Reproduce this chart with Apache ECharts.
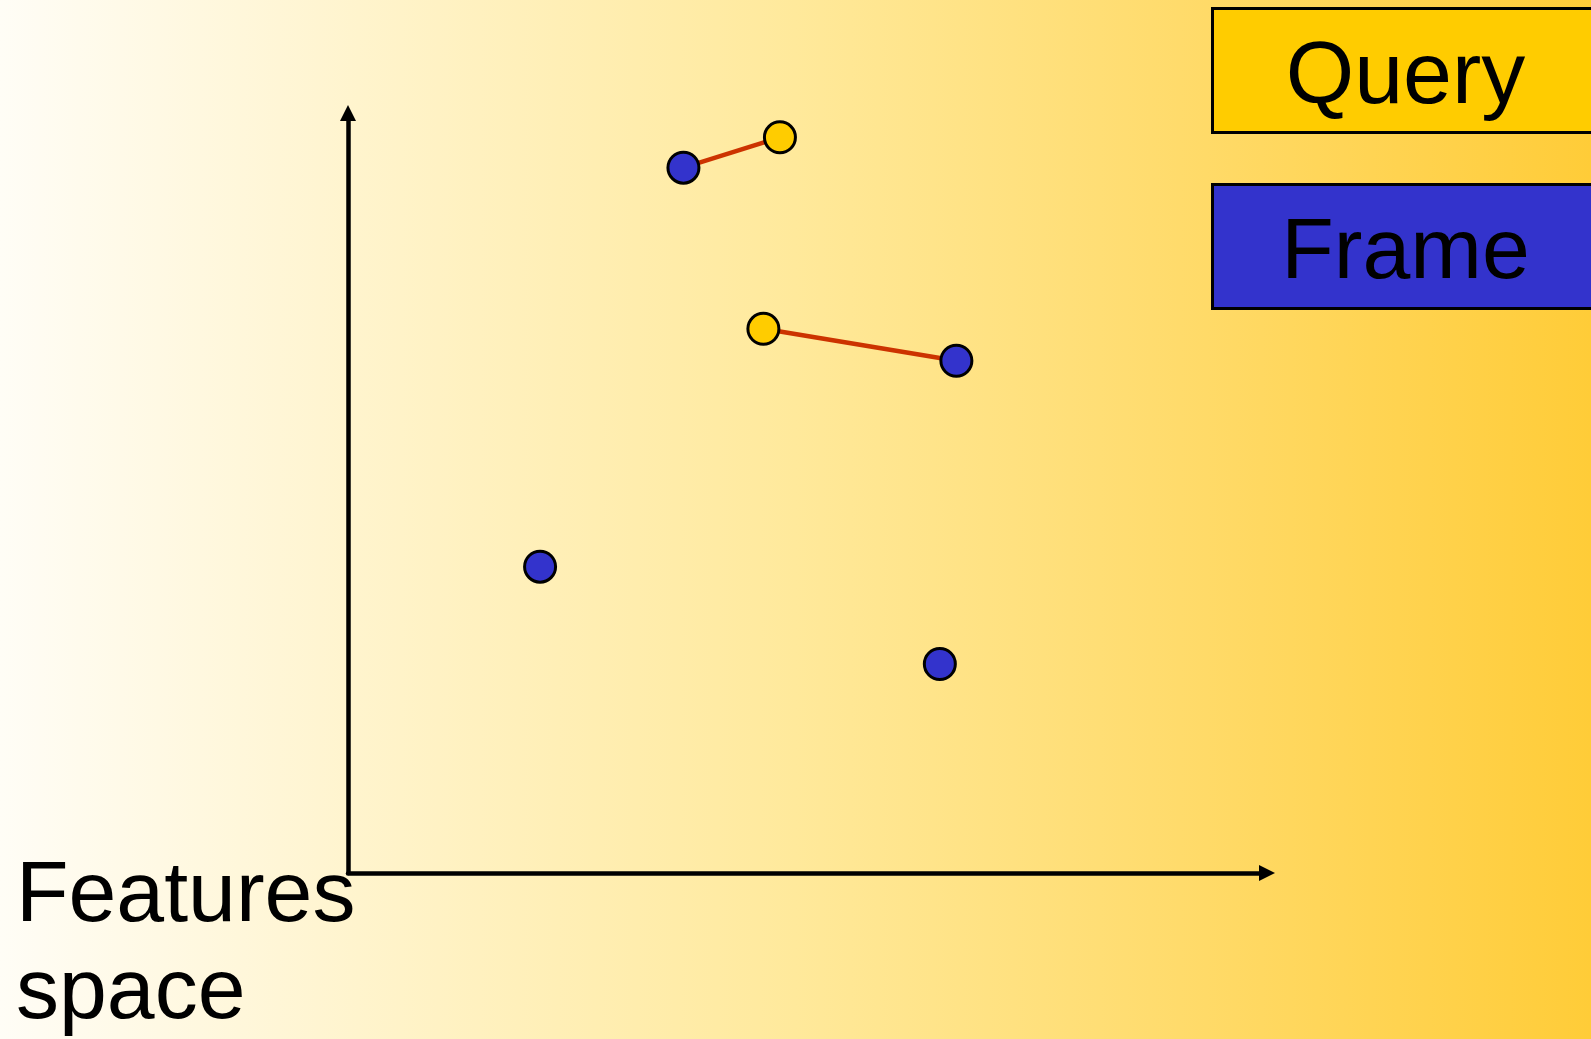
<!DOCTYPE html>
<html>
<head>
<meta charset="utf-8">
<script src="https://cdn.jsdelivr.net/npm/echarts@6/dist/echarts.min.js"></script>
<style>
html,body{margin:0;padding:0;width:100%;height:100%;overflow:hidden;}
#chart{width:1591px;height:1039px;}
</style>
</head>
<body>
<div id="chart"></div>
<script>
// Data (feature-space coordinates, 0..100 on both axes)
var queryPoints = [[47.0, 96.8], [45.2, 71.6]];
var framePoints = [[36.5, 92.8], [66.2, 67.4], [20.9, 40.3], [64.4, 27.5]];
// matches: query index -> frame index
var matches = [[0, 0], [1, 1]];
var legendLabels = ['Query', 'Frame'];
var axisLabel = ['Features', 'space'];

var chart = echarts.init(document.getElementById('chart'), null, {renderer: 'canvas'});

var lineSeries = matches.map(function (m) {
  return {
    type: 'line',
    data: [queryPoints[m[0]], framePoints[m[1]]],
    symbol: 'none',
    lineStyle: {color: '#CC3300', width: 4.5},
    silent: true,
    z: 2
  };
});

var option = {
  animation: false,
  backgroundColor: {
    type: 'linear', x: 0, y: 0, x2: 1, y2: 0,
    colorStops: [
      {offset: 0, color: '#FFFDF6'},
      {offset: 0.5, color: '#FFE99B'},
      {offset: 1, color: '#FFCC38'}
    ]
  },
  grid: {left: 348, right: 324, top: 113, bottom: 166},
  xAxis: {
    type: 'value', min: 0, max: 100,
    axisLine: {show: true, onZero: false, lineStyle: {color: '#000', width: 4.5},
      symbol: ['none', 'triangle'], symbolSize: [16, 16]},
    axisTick: {show: false}, axisLabel: {show: false}, splitLine: {show: false}
  },
  yAxis: {
    type: 'value', min: 0, max: 100,
    axisLine: {show: true, onZero: false, lineStyle: {color: '#000', width: 4.5},
      symbol: ['none', 'triangle'], symbolSize: [16, 16]},
    axisTick: {show: false}, axisLabel: {show: false}, splitLine: {show: false}
  },
  series: lineSeries.concat([
    {
      type: 'scatter', name: legendLabels[0], data: queryPoints,
      symbol: 'circle', symbolSize: 31,
      itemStyle: {color: '#FFCC00', borderColor: '#000', borderWidth: 3, opacity: 1},
      z: 3
    },
    {
      type: 'scatter', name: legendLabels[1], data: framePoints,
      symbol: 'circle', symbolSize: 31,
      itemStyle: {color: '#3333CC', borderColor: '#000', borderWidth: 3, opacity: 1},
      z: 3
    }
  ]),
  graphic: [
    {
      type: 'group', left: 1211, top: 7,
      children: [
        {type: 'rect', shape: {x: 0, y: 0, width: 400, height: 124},
          style: {fill: '#FFCC00', stroke: '#000', lineWidth: 3}},
        {type: 'text', x: 193, y: 70,
          style: {text: legendLabels[0], font: '88px "Liberation Sans", Arial, sans-serif',
            fill: '#000', textAlign: 'center', textVerticalAlign: 'middle'}}
      ]
    },
    {
      type: 'group', left: 1211, top: 183,
      children: [
        {type: 'rect', shape: {x: 0, y: 0, width: 400, height: 124},
          style: {fill: '#3333CC', stroke: '#000', lineWidth: 3}},
        {type: 'text', x: 193, y: 70,
          style: {text: legendLabels[1], font: '86px "Liberation Sans", Arial, sans-serif',
            fill: '#000', textAlign: 'center', textVerticalAlign: 'middle'}}
      ]
    },
    {
      type: 'text', left: 16, top: 849,
      style: {text: axisLabel.join('\n'), font: '86px "Liberation Sans", Arial, sans-serif',
        fill: '#000', lineHeight: 97}
    }
  ]
};
chart.setOption(option);
</script>
</body>
</html>
